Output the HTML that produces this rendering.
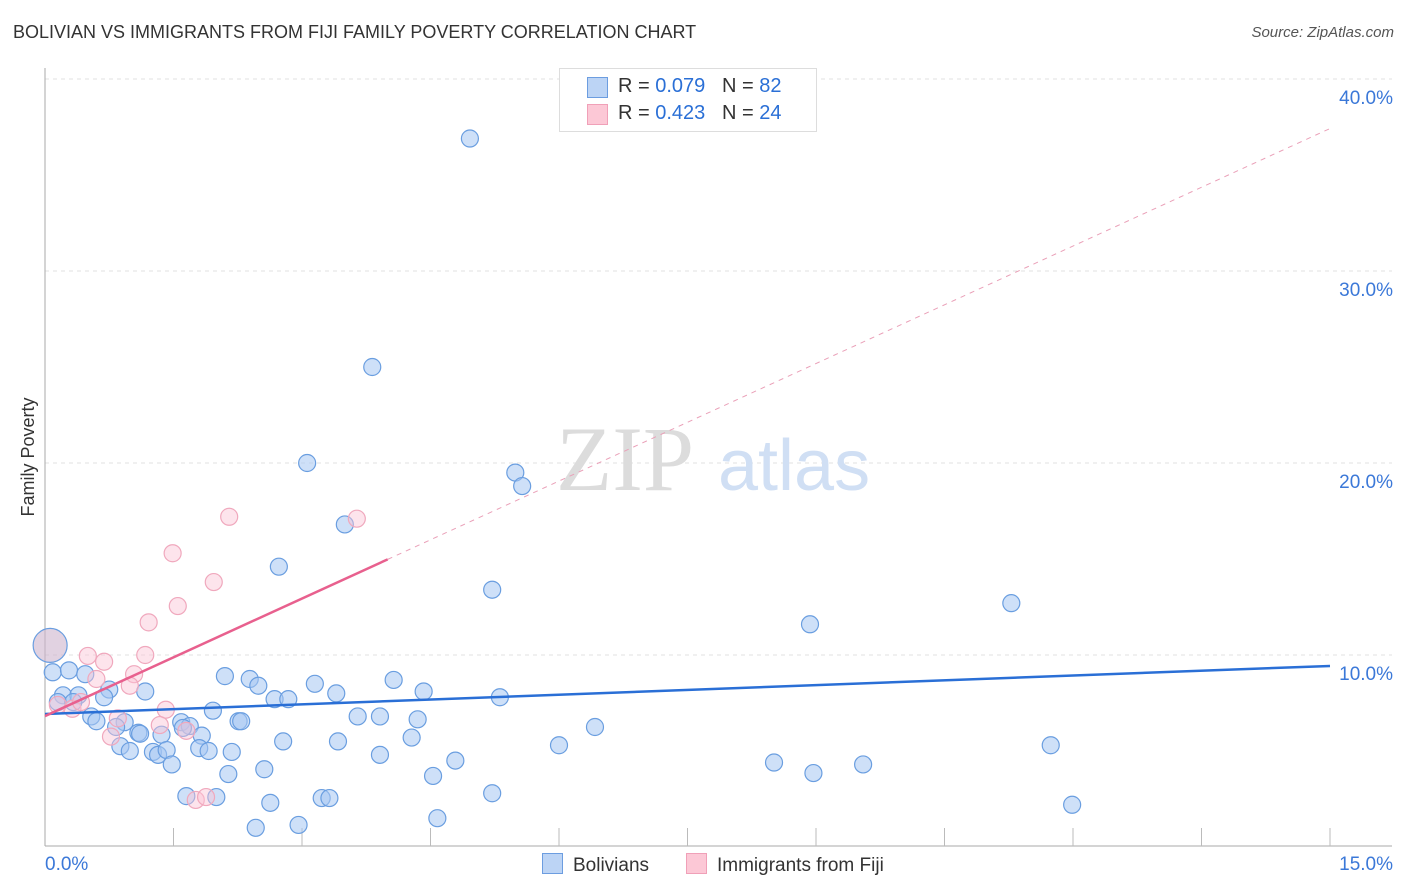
<!DOCTYPE html>
<html><head><meta charset="utf-8"><style>
body{margin:0;background:#fff;font-family:"Liberation Sans",sans-serif}
#wrap{position:relative;width:1406px;height:892px}
.t{position:absolute;white-space:nowrap}
</style></head><body>
<div id="wrap">
<div class="t" style="left:13px;top:22px;font-size:18px;color:#333">BOLIVIAN VS IMMIGRANTS FROM FIJI FAMILY POVERTY CORRELATION CHART</div>
<div class="t" style="right:12px;top:24px;font-size:15px;color:#555;font-style:italic">Source: ZipAtlas.com</div>
<svg id="svg" width="1406" height="892" style="position:absolute;left:0;top:0"></svg>
</div>
<script>
const xTicks=[0,15];
const yTicks=[10,20,30,40];
const bolX=[4.96,3.82,3.06,5.49,5.57,3.50,2.73,5.22,11.28,8.93,0.09,0.28,0.47,2.10,2.39,2.49,3.15,4.07,0.75,1.17,3.40,4.42,0.21,0.39,0.69,2.68,2.84,5.31,0.15,0.33,1.96,0.54,0.60,0.93,0.83,1.09,1.11,1.59,1.69,1.61,2.26,2.29,3.65,3.91,4.35,6.42,1.83,1.36,2.78,3.42,4.28,6.0,11.74,0.88,0.99,1.26,1.32,1.42,1.80,1.91,2.18,3.91,4.79,1.48,8.51,9.55,2.56,2.14,4.53,8.97,1.65,2.0,2.63,3.23,3.32,5.22,11.99,4.58,2.96,2.46];
const bolY=[36.9,25.0,20.0,19.5,18.8,16.8,14.6,13.4,12.7,11.6,9.1,9.2,9.0,8.9,8.75,8.4,8.5,8.7,8.2,8.1,8.0,8.1,7.9,7.9,7.8,7.7,7.7,7.8,7.55,7.55,7.1,6.8,6.55,6.5,6.25,5.95,5.9,6.5,6.3,6.2,6.55,6.55,6.8,6.8,6.65,6.25,5.8,5.85,5.5,5.5,5.7,5.3,5.3,5.25,5.0,4.95,4.8,5.05,5.15,5.0,4.95,4.8,4.5,4.3,4.4,4.3,4.05,3.8,3.7,3.85,2.65,2.6,2.3,2.55,2.55,2.8,2.2,1.5,1.15,1.0];
const fijiX=[2.15,3.64,1.49,1.97,1.55,1.21,0.50,0.69,1.17,0.60,1.04,0.99,1.41,0.15,0.32,0.42,0.85,1.34,1.65,0.77,1.76,1.88];
const fijiY=[17.2,17.1,15.3,13.8,12.55,11.7,9.95,9.65,10.0,8.75,9.0,8.4,7.15,7.4,7.2,7.55,6.7,6.35,6.05,5.75,2.45,2.6];
const bigX=[0.06],bigY=[10.5];
const bolTrend=[6.93,9.43];
const fijiTrend=[6.82,2.04];
const X=v=>45+v/15*1285, Y=v=>847-v*19.2;
const s=document.getElementById('svg');
function mk(tag,attrs){const e=document.createElementNS('http://www.w3.org/2000/svg',tag);for(const k in attrs)e.setAttribute(k,attrs[k]);s.appendChild(e);return e;}
yTicks.forEach(v=>{
 const g=mk('line',{x1:45,x2:1392,y1:Y(v),y2:Y(v),stroke:'#e2e2e2','stroke-dasharray':'4,4'});
 
 
 const t=mk('text',{x:1393,y:Y(v)+25,'text-anchor':'end','font-size':19,fill:'#3b78d8','font-family':'Liberation Sans'});
 t.textContent=v.toFixed(1)+'%';
 
 
});
let a=mk('line',{x1:45,x2:45,y1:68,y2:846,stroke:'#aaa'});


a=mk('line',{x1:45,x2:1392,y1:846,y2:846,stroke:'#aaa'});


for(let i=1;i<=10;i++){const tk=mk('line',{x1:X(i*1.5),x2:X(i*1.5),y1:828,y2:846,stroke:'#bbb'});
 
 }
xTicks.forEach((v,i)=>{const t=mk('text',{x:i?1393:45,y:870,'text-anchor':i?'end':'start','font-size':19,fill:'#3b78d8','font-family':'Liberation Sans'});
 t.textContent=v.toFixed(1)+'%';
 
 });
let yt=mk('text',{x:34,y:457,transform:'rotate(-90 34 457)','text-anchor':'middle','font-size':18,fill:'#333','font-family':'Liberation Sans'});
yt.textContent='Family Poverty';


let w1=mk('text',{x:556,y:490,'font-size':92,fill:'#dcdcdc','font-family':'Liberation Serif'});w1.textContent='ZIP';


let w2=mk('text',{x:718,y:490,'font-size':72,fill:'#d0dff4','font-family':'Liberation Sans'});w2.textContent='atlas';


bolX.forEach((x,i)=>{const c=mk('circle',{cx:X(x),cy:Y(bolY[i]),r:8.5,fill:'rgba(165,198,242,0.55)',stroke:'#6a9ee0','stroke-width':1.2});
 
 });
fijiX.forEach((x,i)=>{const c=mk('circle',{cx:X(x),cy:Y(fijiY[i]),r:8.5,fill:'rgba(250,195,212,0.45)',stroke:'#f0a8bd','stroke-width':1.2});
 
 });
bigX.forEach((x,i)=>{const c=mk('circle',{cx:X(x),cy:Y(bigY[i]),r:17,fill:'rgba(205,180,205,0.6)',stroke:'#6a9ee0','stroke-width':1.2});
 
 });
let l=mk('line',{x1:X(0),y1:Y(bolTrend[0]),x2:X(15),y2:Y(bolTrend[1]),stroke:'#2a6fd6','stroke-width':2.5});


l=mk('line',{x1:X(0),y1:Y(fijiTrend[0]),x2:X(4),y2:Y(fijiTrend[0]+4*fijiTrend[1]),stroke:'#e8608e','stroke-width':2.5});


l=mk('line',{x1:X(4),y1:Y(fijiTrend[0]+4*fijiTrend[1]),x2:X(15),y2:Y(fijiTrend[0]+15*fijiTrend[1]),stroke:'#eaa0b8','stroke-width':1,'stroke-dasharray':'5,5'});


</script>
<div class="t" style="left:559px;top:68px;width:256px;height:62px;border:1px solid #ddd;background:#fff">
 <div style="position:absolute;left:27px;top:8px;width:19px;height:19px;background:#bcd4f5;border:1px solid #6c9de0"></div>
 <div class="t" style="left:58px;top:6px;font-size:20px;color:#333">R = <span style="color:#2a6fd6">0.079</span>&nbsp;&nbsp;&nbsp;N = <span style="color:#2a6fd6">82</span></div>
 <div style="position:absolute;left:27px;top:35px;width:19px;height:19px;background:#fcc8d6;border:1px solid #f0a0b8"></div>
 <div class="t" style="left:58px;top:33px;font-size:20px;color:#333">R = <span style="color:#2a6fd6">0.423</span>&nbsp;&nbsp;&nbsp;N = <span style="color:#2a6fd6">24</span></div>
</div>
<div class="t" style="left:542px;top:853px;font-size:19px;color:#333"><span style="display:inline-block;width:19px;height:19px;background:#bcd4f5;border:1px solid #6c9de0;vertical-align:-3px;margin-right:10px"></span>Bolivians</div>
<div class="t" style="left:686px;top:853px;font-size:19px;color:#333"><span style="display:inline-block;width:19px;height:19px;background:#fcc8d6;border:1px solid #f0a0b8;vertical-align:-3px;margin-right:10px"></span>Immigrants from Fiji</div>
</body></html>
